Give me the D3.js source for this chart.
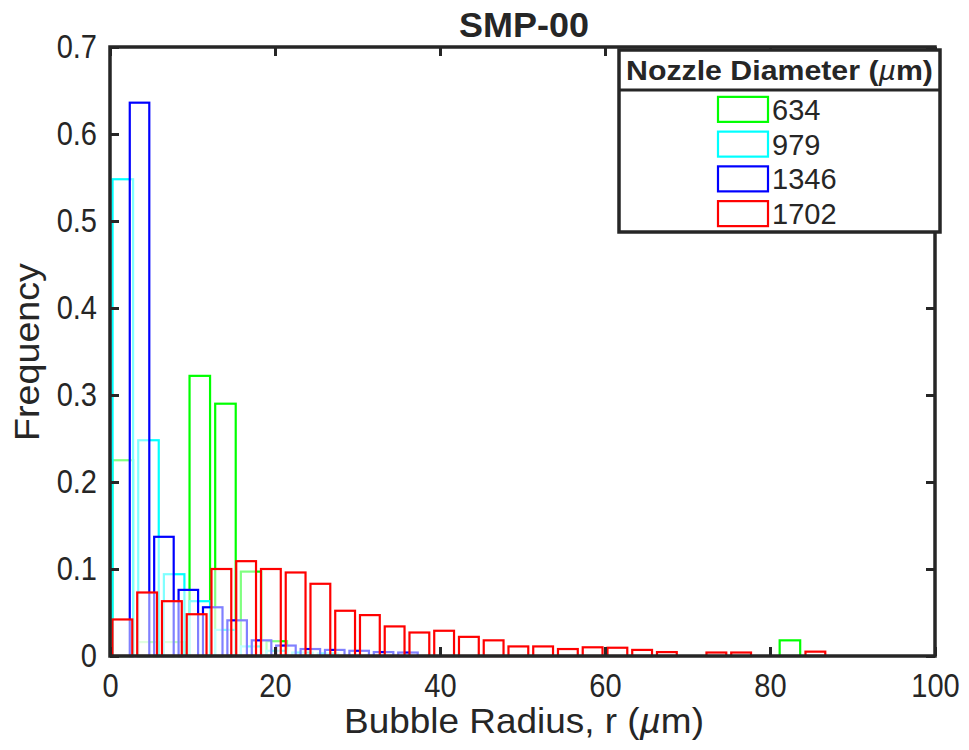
<!DOCTYPE html>
<html>
<head>
<meta charset="utf-8">
<script src="https://cdn.jsdelivr.net/npm/d3@7"></script>
<style>
  html, body { margin: 0; padding: 0; background: #fff; }
  svg { display: block; }
  text { font-family: "Liberation Sans", Arial, Helvetica, sans-serif; fill: #262626; }
</style>
</head>
<body>
<svg id="chart" width="969" height="750"></svg>
<script>
// ---------------- data ----------------
const chartTitle = "SMP-00";
const xLabel = "Bubble Radius, r (";
const yLabel = "Frequency";
const legendTitle = "Nozzle Diameter (";
const xTicks = [0, 20, 40, 60, 80, 100];
const xTickLabels = ["0", "20", "40", "60", "80", "100"];
const yTicks = [0, 0.1, 0.2, 0.3, 0.4, 0.5, 0.6, 0.7];
const yTickLabels = ["0", "0.1", "0.2", "0.3", "0.4", "0.5", "0.6", "0.7"];

const seriesNames = ["634", "979", "1346", "1702"];
const seriesColors = ["#00ff00", "#00ffff", "#0000ff", "#ff0000"];

// histogram bins (first bin left edge, bin width, in µm)
const binStart634 = 0.0,  binWidth634 = 3.11;
const binStart979 = 0.0,  binWidth979 = 3.11;
const binStart1346 = 2.1, binWidth1346 = 2.958;
const binStart1702 = 0.0, binWidth1702 = 3.0;

// frequency per bin
const freq634 = [0.225, 0.016, 0.016, 0.322, 0.290, 0.097, 0.017,
  0, 0, 0, 0, 0, 0, 0, 0, 0, 0, 0, 0, 0, 0, 0, 0, 0, 0, 0, 0.018];
const freq979 = [0.548, 0.248, 0.094, 0.063, 0.030, 0.011, 0.006, 0.004, 0.003];
const freq1346 = [0.636, 0.137, 0.076, 0.056, 0.041, 0.018, 0.012, 0.008, 0.007, 0.006, 0.0045, 0.004];
const freq1702 = [0.042, 0.073, 0.063, 0.048, 0.100, 0.109, 0.100, 0.096, 0.083, 0.052,
  0.047, 0.034, 0.027, 0.029, 0.022, 0.018, 0.011, 0.011, 0.008, 0.010,
  0.0095, 0.007, 0.0045, 0, 0.004, 0.004, 0, 0, 0.005];

const series = [
  { name: seriesNames[0], color: seriesColors[0], start: binStart634,  width: binWidth634,  values: freq634 },
  { name: seriesNames[1], color: seriesColors[1], start: binStart979,  width: binWidth979,  values: freq979 },
  { name: seriesNames[2], color: seriesColors[2], start: binStart1346, width: binWidth1346, values: freq1346 },
  { name: seriesNames[3], color: seriesColors[3], start: binStart1702, width: binWidth1702, values: freq1702 }
];

// ---------------- layout ----------------
const svg = d3.select("#chart");
svg.append("rect").attr("width", 969).attr("height", 750).attr("fill", "#fff");

const L = 110, R = 935, T = 47, B = 656;
const x = d3.scaleLinear().domain([0, 100]).range([L, R]);
const y = d3.scaleLinear().domain([0, 0.7]).range([B, T]);
const axisColor = "#262626";
const fontFam = '"Liberation Sans", Arial, Helvetica, sans-serif';

function fitWidth(sel, w) {
  const bb = sel.node().getBBox();
  const s = w / bb.width;
  sel.attr("transform", `scale(${s},1)`);
}
function squeeze(sel, f) {
  sel.each(function () {
    const n = this;
    const len = n.getComputedTextLength();
    n.setAttribute("textLength", len * f);
    n.setAttribute("lengthAdjust", "spacingAndGlyphs");
  });
}

// ---------------- bars ----------------
const barFrac = 0.8;
const gBars = svg.append("g");
series.forEach(s => {
  const bins = s.values.map((v, i) => ({
    x0: s.start + s.width * i,
    x1: s.start + s.width * (i + 1),
    v
  })).filter(d => d.v > 0);
  gBars.append("g").selectAll("rect").data(bins).join("rect")
    .attr("x", d => x((d.x0 + d.x1) / 2 - (d.x1 - d.x0) * barFrac / 2))
    .attr("width", d => x(d.x0 + (d.x1 - d.x0) * barFrac) - x(d.x0))
    .attr("y", d => y(d.v))
    .attr("height", d => y(0) - y(d.v))
    .attr("fill", "#fff")
    .attr("fill-opacity", 0.5)
    .attr("stroke", s.color)
    .attr("stroke-width", 2.2);
});

// ---------------- axes ----------------
const tickLen = 9;
const tickFont = 33;
const gAx = svg.append("g");
const xAxisB = d3.axisBottom(x).tickValues(xTicks).tickSizeInner(-tickLen).tickSizeOuter(0).tickPadding(18)
  .tickFormat((d, i) => xTickLabels[i]);
const xAxisT = d3.axisTop(x).tickValues(xTicks).tickSizeInner(-tickLen).tickSizeOuter(0).tickFormat("");
const yAxisL = d3.axisLeft(y).tickValues(yTicks).tickSizeInner(-tickLen).tickSizeOuter(0).tickPadding(13)
  .tickFormat((d, i) => yTickLabels[i]);
const yAxisR = d3.axisRight(y).tickValues(yTicks).tickSizeInner(-tickLen).tickSizeOuter(0).tickFormat("");

function styleAxis(g) {
  g.attr("font-family", null).attr("font-size", null);
  g.select(".domain").remove();
  g.selectAll(".tick line").attr("stroke", axisColor).attr("stroke-width", 3);
  g.selectAll(".tick text").attr("fill", axisColor).style("font-size", tickFont + "px")
    .style("font-family", fontFam);
}
const gxb = gAx.append("g").attr("transform", `translate(0,${B})`).call(xAxisB).call(styleAxis);
gAx.append("g").attr("transform", `translate(0,${T})`).call(xAxisT).call(styleAxis);
const gyl = gAx.append("g").attr("transform", `translate(${L},0)`).call(yAxisL).call(styleAxis);
gAx.append("g").attr("transform", `translate(${R},0)`).call(yAxisR).call(styleAxis);
squeeze(gxb.selectAll(".tick text"), 0.88);
squeeze(gyl.selectAll(".tick text"), 0.88);

// axis box
gAx.append("rect").attr("x", L).attr("y", T).attr("width", R - L).attr("height", B - T)
  .attr("fill", "none").attr("stroke", axisColor).attr("stroke-width", 3.5);

// ---------------- titles ----------------
const gTitle = svg.append("g").attr("transform", "translate(524,37)");
const tTitle = gTitle.append("text").attr("text-anchor", "middle")
  .style("font-size", "36px").style("font-weight", "bold").attr("fill", "#000").text(chartTitle);
fitWidth(tTitle, 130);

const gX = svg.append("g").attr("transform", "translate(524,733)");
const tX = gX.append("text").attr("text-anchor", "middle").style("font-size", "35px");
tX.append("tspan").text(xLabel);
tX.append("tspan").style("font-style", "italic").text("\u00b5");
tX.append("tspan").text("m)");
fitWidth(tX, 360);

const gY = svg.append("g").attr("transform", "translate(39,352) rotate(-90)");
const tY = gY.append("text").attr("text-anchor", "middle").style("font-size", "36px").text(yLabel);
fitWidth(tY, 178);

// ---------------- legend ----------------
const lgX = 619, lgY = 50, lgW = 321, lgH = 182, lgSep = 90;
const gL = svg.append("g");
gL.append("rect").attr("x", lgX).attr("y", lgY).attr("width", lgW).attr("height", lgH)
  .attr("fill", "#fff").attr("stroke", axisColor).attr("stroke-width", 3.5);
gL.append("line").attr("x1", lgX).attr("x2", lgX + lgW).attr("y1", lgSep).attr("y2", lgSep)
  .attr("stroke", axisColor).attr("stroke-width", 3);
const gLT = gL.append("g").attr("transform", `translate(${lgX + lgW / 2},80)`);
const tLT = gLT.append("text").attr("text-anchor", "middle").style("font-size", "27px")
  .style("font-weight", "bold").attr("fill", "#000");
tLT.append("tspan").text(legendTitle);
tLT.append("tspan").style("font-style", "italic").style("font-weight", "normal").text("\u00b5");
tLT.append("tspan").text("m)");
fitWidth(tLT, 307);

const rowY = d3.scaleBand().domain(seriesNames).range([92, 231]);
series.forEach(s => {
  const cy = rowY(s.name) + rowY.bandwidth() / 2;
  gL.append("rect").attr("x", 718).attr("y", cy - 12.5).attr("width", 50).attr("height", 25)
    .attr("fill", "#fff").attr("stroke", s.color).attr("stroke-width", 2.2);
  gL.append("text").attr("x", 772).attr("y", cy).attr("dy", "0.36em")
    .style("font-size", "29px").attr("fill", "#000").text(s.name);
});
</script>
</body>
</html>
